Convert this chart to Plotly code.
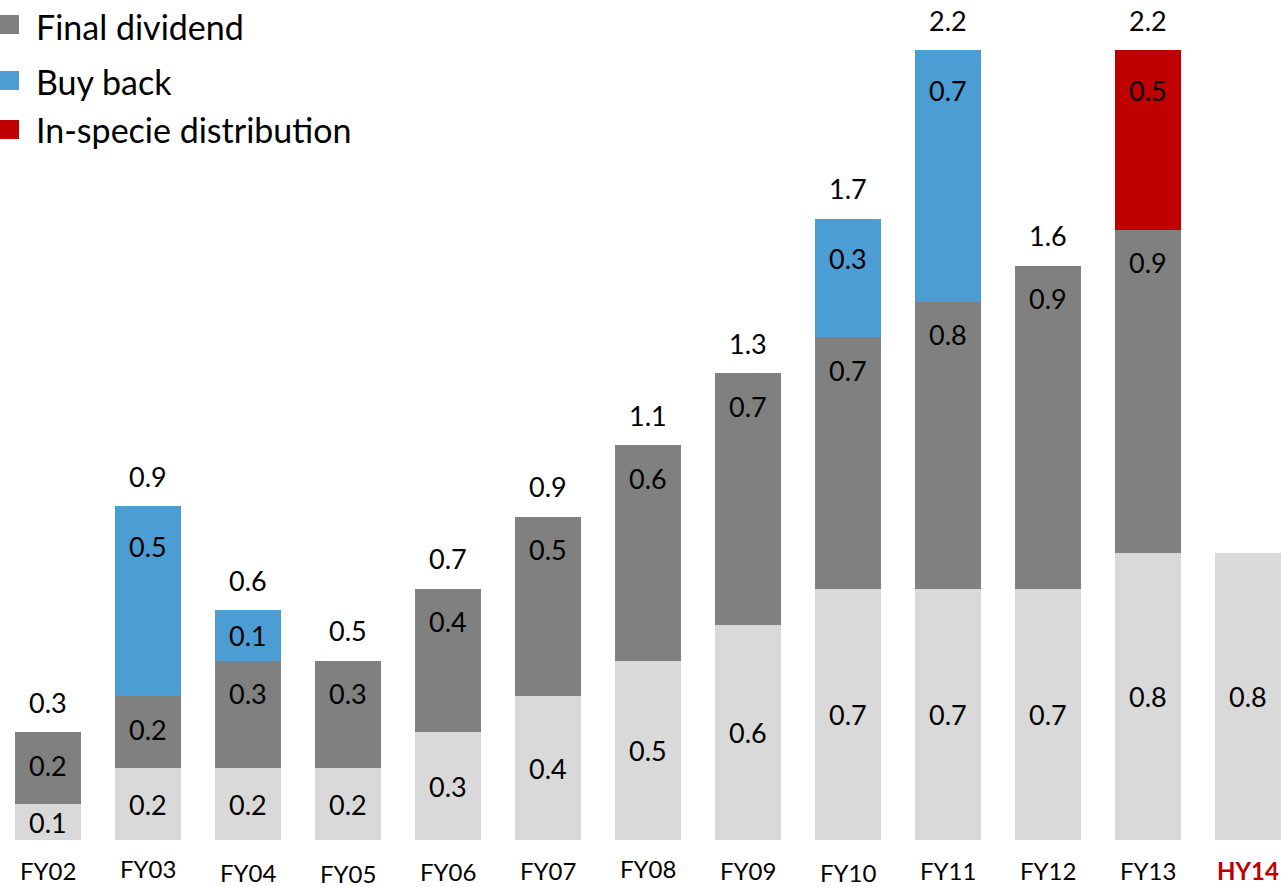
import plotly.graph_objects as go

categories = ["FY02", "FY03", "FY04", "FY05", "FY06", "FY07", "FY08", "FY09",
              "FY10", "FY11", "FY12", "FY13", "HY14"]
interim = [0.1, 0.2, 0.2, 0.2, 0.3, 0.4, 0.5, 0.6, 0.7, 0.7, 0.7, 0.8, 0.8]
final_div = [0.2, 0.2, 0.3, 0.3, 0.4, 0.5, 0.6, 0.7, 0.7, 0.8, 0.9, 0.9, None]
buy_back = [None, 0.53, 0.14, None, None, None, None, None, 0.33, 0.7, None, None, None]
in_specie = [None, None, None, None, None, None, None, None, None, None, None, 0.5, None]
show_total = [True] * 12 + [False]
label_y_px = [870, 868, 872, 873, 871, 870, 868, 870, 872, 870, 870, 870, 870]

FONT = "Lato, Open Sans, sans-serif"
W, H = 1281, 887
PLOT_H = 840
PX_PER_UNIT = 359.0

fig = go.Figure()
# (name, values, colour, label offset from segment top in px; None = centred)
series = [
    ("Interim dividend", interim, "#d9d9d9", None),
    ("Final dividend", final_div, "#808080", 33),
    ("Buy back", buy_back, "#4d9dd5", 40),
    ("In-specie distribution", in_specie, "#c00000", 40),
]
annotations = []
base = [0.0] * len(categories)
for name, vals, col, off in series:
    fig.add_trace(go.Bar(
        x=list(range(len(categories))), y=vals, name=name,
        marker=dict(color=col, line=dict(width=0)),
        showlegend=False, hoverinfo="skip",
    ))
    for i, v in enumerate(vals):
        if not v:
            continue
        bottom, top = base[i], base[i] + v
        centre = (bottom + top) / 2
        ylab = centre if off is None else max(top - off / PX_PER_UNIT, centre)
        annotations.append(dict(x=i, y=ylab, xref="x", yref="y", text=f"{v:.1f}",
                                showarrow=False, yanchor="middle",
                                font=dict(family=FONT, size=27, color="black")))
        base[i] = top

for i, cat in enumerate(categories):
    if show_total[i]:
        annotations.append(dict(x=i, y=base[i], xref="x", yref="y", text=f"{base[i]:.1f}",
                                showarrow=False, yanchor="middle", yshift=30,
                                font=dict(family=FONT, size=27, color="black")))
    is_hy = cat.startswith("HY")
    annotations.append(dict(x=i, y=0, xref="x", yref="y",
                            text=f"<b>{cat}</b>" if is_hy else cat,
                            showarrow=False, yanchor="middle",
                            yshift=-(label_y_px[i] - PLOT_H),
                            font=dict(family=FONT, size=24,
                                      color="#c00000" if is_hy else "black")))

# manual legend
legend_items = [("Final dividend", "#808080", 15, 34, 26),
                ("Buy back", "#4d9dd5", 71, 90, 82),
                ("In-specie distribution", "#c00000", 120, 139, 129)]
shapes = []
for name, col, y0, y1, yc in legend_items:
    shapes.append(dict(type="rect", xref="paper", yref="paper",
                       x0=0, x1=19 / W, y0=1 - y1 / PLOT_H, y1=1 - y0 / PLOT_H,
                       fillcolor=col, line=dict(width=0)))
    annotations.append(dict(x=34 / W, y=1 - yc / PLOT_H, xref="paper", yref="paper",
                            text=name, showarrow=False, xanchor="left", yanchor="middle",
                            font=dict(family=FONT, size=34, color="black")))

fig.update_layout(
    width=W, height=H, barmode="stack", bargap=0.34,
    margin=dict(l=0, r=0, t=0, b=H - PLOT_H, pad=0),
    plot_bgcolor="white", paper_bgcolor="white",
    xaxis=dict(range=[-0.48, 12.33], visible=False, fixedrange=True),
    yaxis=dict(range=[0, PLOT_H / PX_PER_UNIT], visible=False, fixedrange=True),
    annotations=annotations, shapes=shapes, showlegend=False,
)

fig.write_html("out.html", config={"displayModeBar": False})
